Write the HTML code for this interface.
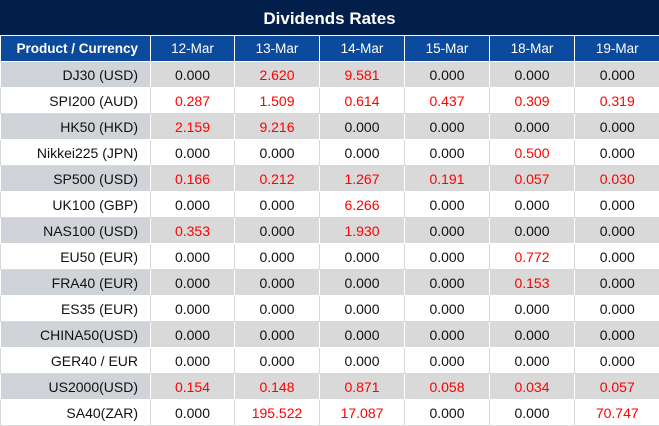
<!DOCTYPE html><html><head><style>
body{margin:0;width:659px;height:426px;overflow:hidden;background:#fff;font-family:"Liberation Sans",sans-serif}
.t{height:35px;background:#021f4b;color:#fff;font-weight:bold;font-size:17px;text-align:center;line-height:37px}
table{border-collapse:collapse;width:659px;table-layout:fixed;border-top:1px solid #fff}
td,th{height:25px;padding:0;font-size:14px;text-align:center;border-left:1px solid #fff;border-bottom:1px solid #fff}
th{background:#0b4a9c;color:#fff;font-weight:normal;height:25px;font-size:13.5px}
th:first-child{font-weight:bold}
td:first-child,th:first-child{text-align:right;padding-right:12px;border-left:none}
tr.g td{background:#d9d9d9}tr.g td:first-child{background:#d0d3d7}
tr.w td{border-left:1px solid #d9d9d9;border-bottom:1px solid #d9d9d9}
td{color:#111}.r{color:#f00}
</style></head><body>
<div class="t">Dividends Rates</div>
<table><colgroup><col style="width:150px"><col style="width:84px"><col style="width:85px"><col style="width:85px"><col style="width:85px"><col style="width:85px"><col style="width:85px"></colgroup>
<tr><th>Product / Currency</th><th>12-Mar</th><th>13-Mar</th><th>14-Mar</th><th>15-Mar</th><th>18-Mar</th><th>19-Mar</th></tr>
<tr class="g"><td>DJ30 (USD)</td><td>0.000</td><td class="r">2.620</td><td class="r">9.581</td><td>0.000</td><td>0.000</td><td>0.000</td></tr>
<tr class="w"><td>SPI200 (AUD)</td><td class="r">0.287</td><td class="r">1.509</td><td class="r">0.614</td><td class="r">0.437</td><td class="r">0.309</td><td class="r">0.319</td></tr>
<tr class="g"><td>HK50 (HKD)</td><td class="r">2.159</td><td class="r">9.216</td><td>0.000</td><td>0.000</td><td>0.000</td><td>0.000</td></tr>
<tr class="w"><td>Nikkei225 (JPN)</td><td>0.000</td><td>0.000</td><td>0.000</td><td>0.000</td><td class="r">0.500</td><td>0.000</td></tr>
<tr class="g"><td>SP500 (USD)</td><td class="r">0.166</td><td class="r">0.212</td><td class="r">1.267</td><td class="r">0.191</td><td class="r">0.057</td><td class="r">0.030</td></tr>
<tr class="w"><td>UK100 (GBP)</td><td>0.000</td><td>0.000</td><td class="r">6.266</td><td>0.000</td><td>0.000</td><td>0.000</td></tr>
<tr class="g"><td>NAS100 (USD)</td><td class="r">0.353</td><td>0.000</td><td class="r">1.930</td><td>0.000</td><td>0.000</td><td>0.000</td></tr>
<tr class="w"><td>EU50 (EUR)</td><td>0.000</td><td>0.000</td><td>0.000</td><td>0.000</td><td class="r">0.772</td><td>0.000</td></tr>
<tr class="g"><td>FRA40 (EUR)</td><td>0.000</td><td>0.000</td><td>0.000</td><td>0.000</td><td class="r">0.153</td><td>0.000</td></tr>
<tr class="w"><td>ES35 (EUR)</td><td>0.000</td><td>0.000</td><td>0.000</td><td>0.000</td><td>0.000</td><td>0.000</td></tr>
<tr class="g"><td>CHINA50(USD)</td><td>0.000</td><td>0.000</td><td>0.000</td><td>0.000</td><td>0.000</td><td>0.000</td></tr>
<tr class="w"><td>GER40 / EUR</td><td>0.000</td><td>0.000</td><td>0.000</td><td>0.000</td><td>0.000</td><td>0.000</td></tr>
<tr class="g"><td>US2000(USD)</td><td class="r">0.154</td><td class="r">0.148</td><td class="r">0.871</td><td class="r">0.058</td><td class="r">0.034</td><td class="r">0.057</td></tr>
<tr class="w"><td>SA40(ZAR)</td><td>0.000</td><td class="r">195.522</td><td class="r">17.087</td><td>0.000</td><td>0.000</td><td class="r">70.747</td></tr>
</table></body></html>
